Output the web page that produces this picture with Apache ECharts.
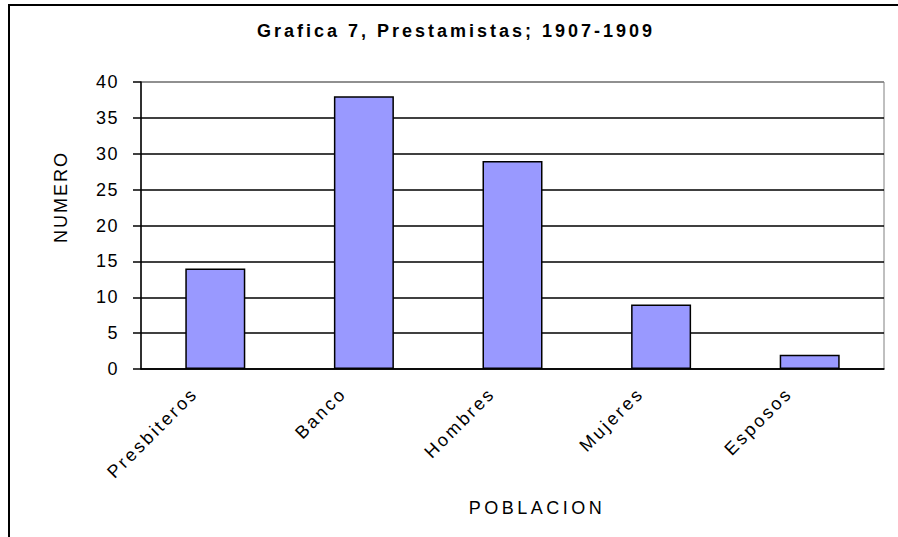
<!DOCTYPE html>
<html>
<head>
<meta charset="utf-8">
<script src="https://cdn.jsdelivr.net/npm/echarts@6/dist/echarts.min.js"></script>
<style>
html, body { margin: 0; padding: 0; background: #fff; }
#chart { width: 898px; height: 537px; }
</style>
</head>
<body>
<div id="chart"></div>
<script>
var categories = ['Presbiteros', 'Banco', 'Hombres', 'Mujeres', 'Esposos'];
var values = [14, 38, 29, 9, 2];
var yTicks = [0, 5, 10, 15, 20, 25, 30, 35, 40];

var titleText = 'Grafica 7, Prestamistas; 1907-1909';
var xName = 'POBLACION';
var yName = 'NUMERO';

var font = '"Liberation Sans", Arial, sans-serif';
// svg renderer so the browser can letter-space the text like the Excel original
var chart = echarts.init(document.getElementById('chart'), null, { renderer: 'svg' });

var options = {
    animation: false,
    backgroundColor: '#fff',
    grid: {
        left: 141, right: 14, top: 82, bottom: 168,
        show: true, borderColor: '#808080', borderWidth: 1, backgroundColor: '#fff'
    },
    graphic: [
        {
            type: 'rect', z: -1,
            shape: { x: 9, y: 5, width: 1000, height: 1000 },
            style: { fill: null, stroke: '#000', lineWidth: 2 }
        },
        {
            type: 'text', x: 456, y: 31,
            style: {
                text: titleText, fontFamily: font,
                fontSize: 18, fontWeight: 'bold', fill: '#000',
                align: 'center', verticalAlign: 'middle'
            }
        },
        {
            type: 'text', x: 61, y: 197, rotation: Math.PI / 2,
            style: {
                text: yName, fontFamily: font, fontSize: 18, fill: '#000',
                align: 'center', verticalAlign: 'middle'
            }
        },
        {
            type: 'text', x: 537, y: 508,
            style: {
                text: xName, fontFamily: font, fontSize: 18, fill: '#000',
                align: 'center', verticalAlign: 'middle'
            }
        }
    ],
    xAxis: {
        type: 'category',
        data: categories,
        axisLine: { lineStyle: { color: '#000', width: 1.5 } },
        axisTick: { show: false },
        axisLabel: {
            rotate: 45, margin: 1, interval: 0, padding: [0, 29, 0, 0],
            fontFamily: font, fontSize: 18, color: '#000'
        }
    },
    yAxis: {
        type: 'value',
        min: yTicks[0],
        max: yTicks[yTicks.length - 1],
        interval: 5,
        axisLine: { show: true, lineStyle: { color: '#000', width: 1.5 } },
        axisTick: { show: true, inside: false, length: 8, lineStyle: { color: '#000', width: 1.5 } },
        axisLabel: { margin: 22, fontFamily: font, fontSize: 18, color: '#000' },
        splitLine: {
            show: true,
            lineStyle: {
                color: ['#000', '#000', '#000', '#000', '#000', '#000', '#000', '#000', '#808080'],
                width: 1.5
            }
        }
    },
    series: [{
        type: 'bar',
        data: values,
        barWidth: 60,
        itemStyle: { color: '#9999FF', borderColor: '#000', borderWidth: 1.5 }
    }]
};
chart.setOption(options);

// spacing per text
function spacingFor(t) {
    if (t === titleText) return '3px';
    if (t === xName) return '3.5px';
    if (t === yName) return '2px';
    if (categories.indexOf(t) >= 0) return '2.6px';
    return '1.5px';
}
var texts = document.querySelectorAll('#chart text');
for (let i = 0; i < texts.length; i++) {
    texts[i].style.letterSpacing = spacingFor(texts[i].textContent);
}
</script>
</body>
</html>
